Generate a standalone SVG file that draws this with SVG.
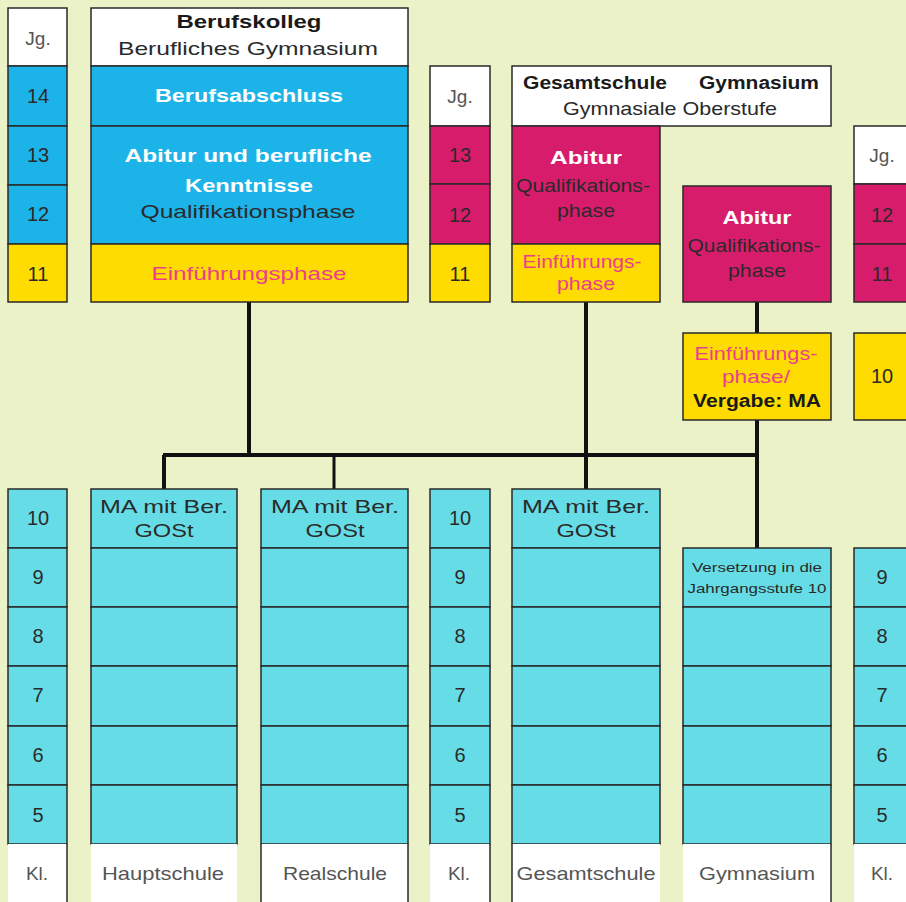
<svg xmlns="http://www.w3.org/2000/svg" width="906" height="902" viewBox="0 0 906 902">
<style>
.bg{fill:#ebf2c8}
.b{stroke:#2a2a2a;stroke-width:1.5}
.w{fill:#ffffff}
.blue{fill:#1cb3e8}
.pink{fill:#d81c6c}
.yel{fill:#ffdc00}
.cy{fill:#66dde6}
text{font-family:"Liberation Sans",Arial,sans-serif;text-anchor:middle}
.t{font-size:19px;fill:#2a2a2a}
.g{font-size:19px;fill:#555555}
.n{font-size:20px;fill:#2a2a2a}
.hb{font-size:18px;font-weight:bold;fill:#1a1a1a}
.wb{font-size:19px;font-weight:bold;fill:#ffffff}
.pk{font-size:19px;fill:#ec3d8e}
.sm{font-size:13px;fill:#2a2a2a}
.con{stroke:#111111;stroke-width:4;fill:none}
.edge{stroke:#2a2a2a;stroke-width:1.5}
</style>
<rect class="bg" x="0" y="0" width="906" height="902"/>

<g id="connectors">
<path class="con" d="M249 302V455"/>
<path class="con" d="M163 455H757"/>
<path class="con" d="M164 455V489"/>
<path class="con" d="M334 455V489" style="stroke-width:3"/>
<path class="con" d="M586 302V489"/>
<path class="con" d="M757 302V333"/>
<path class="con" d="M757 420V548"/>
</g>

<g id="jg-col1">
<rect class="w b" x="8" y="8" width="59" height="58"/>
<text class="g" x="38" y="45">Jg.</text>
<rect class="blue b" x="8" y="66" width="59" height="60"/>
<text class="n" x="38" y="103">14</text>
<rect class="blue b" x="8" y="126" width="59" height="59"/>
<text class="n" x="38" y="162">13</text>
<rect class="blue b" x="8" y="185" width="59" height="59"/>
<text class="n" x="38" y="221">12</text>
<rect class="yel b" x="8" y="244" width="59" height="58"/>
<text class="n" x="38" y="281">11</text>
</g>

<g id="berufskolleg">
<rect class="w b" x="91" y="8" width="317" height="58"/>
<text class="hb" x="249" y="28" textLength="145" lengthAdjust="spacingAndGlyphs">Berufskolleg</text>
<text class="t" x="248" y="55" textLength="260" lengthAdjust="spacingAndGlyphs">Berufliches Gymnasium</text>
<rect class="blue b" x="91" y="66" width="317" height="60"/>
<text class="wb" x="249" y="102" textLength="188" lengthAdjust="spacingAndGlyphs">Berufsabschluss</text>
<rect class="blue b" x="91" y="126" width="317" height="118"/>
<text class="wb" x="248" y="162" textLength="247" lengthAdjust="spacingAndGlyphs">Abitur und berufliche</text>
<text class="wb" x="249" y="192" textLength="128" lengthAdjust="spacingAndGlyphs">Kenntnisse</text>
<text class="t" x="248" y="218" textLength="215" lengthAdjust="spacingAndGlyphs">Qualifikationsphase</text>
<rect class="yel b" x="91" y="244" width="317" height="58"/>
<text class="pk" x="249" y="280" textLength="195" lengthAdjust="spacingAndGlyphs">Einführungsphase</text>
</g>

<g id="jg-col2">
<rect class="w b" x="430" y="66" width="60" height="60"/>
<text class="g" x="460" y="103">Jg.</text>
<rect class="pink b" x="430" y="126" width="60" height="58"/>
<text class="n" x="460" y="162">13</text>
<rect class="pink b" x="430" y="184" width="60" height="60"/>
<text class="n" x="460" y="222">12</text>
<rect class="yel b" x="430" y="244" width="60" height="58"/>
<text class="n" x="460" y="281">11</text>
</g>

<g id="oberstufe-header">
<rect class="w b" x="512" y="66" width="319" height="60"/>
<text class="hb" x="595" y="89" textLength="144" lengthAdjust="spacingAndGlyphs">Gesamtschule</text>
<text class="hb" x="759" y="89" textLength="120" lengthAdjust="spacingAndGlyphs">Gymnasium</text>
<text class="t" x="670" y="115" textLength="214" lengthAdjust="spacingAndGlyphs">Gymnasiale Oberstufe</text>
</g>

<g id="gesamtschule-oberstufe">
<rect class="pink b" x="512" y="126" width="148" height="118"/>
<text class="wb" x="586" y="164" textLength="72" lengthAdjust="spacingAndGlyphs">Abitur</text>
<text class="t" x="583" y="192" textLength="134" lengthAdjust="spacingAndGlyphs">Qualifikations-</text>
<text class="t" x="586" y="217" textLength="58" lengthAdjust="spacingAndGlyphs">phase</text>
<rect class="yel b" x="512" y="244" width="148" height="58"/>
<text class="pk" x="582" y="268" textLength="119" lengthAdjust="spacingAndGlyphs">Einführungs-</text>
<text class="pk" x="586" y="290" textLength="58" lengthAdjust="spacingAndGlyphs">phase</text>
</g>

<g id="gymnasium-oberstufe">
<rect class="pink b" x="683" y="186" width="148" height="116"/>
<text class="wb" x="757" y="224" textLength="69" lengthAdjust="spacingAndGlyphs">Abitur</text>
<text class="t" x="754" y="252" textLength="133" lengthAdjust="spacingAndGlyphs">Qualifikations-</text>
<text class="t" x="757" y="277" textLength="58" lengthAdjust="spacingAndGlyphs">phase</text>
</g>

<g id="gymnasium-ef">
<rect class="yel b" x="683" y="333" width="148" height="87"/>
<text class="pk" x="756" y="360" textLength="123" lengthAdjust="spacingAndGlyphs">Einführungs-</text>
<text class="pk" x="756" y="383" textLength="68" lengthAdjust="spacingAndGlyphs">phase/</text>
<text class="hb" x="757" y="407" textLength="128" lengthAdjust="spacingAndGlyphs">Vergabe: MA</text>
</g>

<g id="jg-col3">
<rect class="w b" x="854" y="126" width="70" height="58"/>
<text class="g" x="882" y="162">Jg.</text>
<rect class="pink b" x="854" y="184" width="70" height="60"/>
<text class="n" x="882" y="222">12</text>
<rect class="pink b" x="854" y="244" width="70" height="58"/>
<text class="n" x="882" y="281">11</text>
<rect class="yel b" x="854" y="333" width="70" height="87"/>
<text class="n" x="882" y="383">10</text>
</g>

<g id="kl-col1">
<rect class="cy b" x="8" y="489" width="59" height="59"/>
<text class="n" x="38" y="525">10</text>
<rect class="cy b" x="8" y="548" width="59" height="59"/>
<text class="n" x="38" y="584">9</text>
<rect class="cy b" x="8" y="607" width="59" height="59"/>
<text class="n" x="38" y="643">8</text>
<rect class="cy b" x="8" y="666" width="59" height="60"/>
<text class="n" x="38" y="702">7</text>
<rect class="cy b" x="8" y="726" width="59" height="59"/>
<text class="n" x="38" y="762">6</text>
<rect class="cy b" x="8" y="785" width="59" height="59"/>
<text class="n" x="38" y="822">5</text>
<rect class="w" x="8" y="844" width="59" height="58"/>
<text class="g" x="37" y="880">Kl.</text>
</g>

<g id="hauptschule">
<rect class="cy b" x="91" y="489" width="146" height="59"/>
<text class="t" x="164" y="513" textLength="128" lengthAdjust="spacingAndGlyphs">MA mit Ber.</text>
<text class="t" x="164" y="537" textLength="59" lengthAdjust="spacingAndGlyphs">GOSt</text>
<rect class="cy b" x="91" y="548" width="146" height="59"/>
<rect class="cy b" x="91" y="607" width="146" height="59"/>
<rect class="cy b" x="91" y="666" width="146" height="60"/>
<rect class="cy b" x="91" y="726" width="146" height="59"/>
<rect class="cy b" x="91" y="785" width="146" height="59"/>
<rect class="w" x="91" y="844" width="146" height="58"/>
<text class="g" x="163" y="880" textLength="122" lengthAdjust="spacingAndGlyphs">Hauptschule</text>
</g>

<g id="realschule">
<rect class="cy b" x="261" y="489" width="147" height="59"/>
<text class="t" x="335" y="513" textLength="128" lengthAdjust="spacingAndGlyphs">MA mit Ber.</text>
<text class="t" x="335" y="537" textLength="59" lengthAdjust="spacingAndGlyphs">GOSt</text>
<rect class="cy b" x="261" y="548" width="147" height="59"/>
<rect class="cy b" x="261" y="607" width="147" height="59"/>
<rect class="cy b" x="261" y="666" width="147" height="60"/>
<rect class="cy b" x="261" y="726" width="147" height="59"/>
<rect class="cy b" x="261" y="785" width="147" height="59"/>
<rect class="w" x="261" y="844" width="147" height="58"/>
<text class="g" x="335" y="880" textLength="104" lengthAdjust="spacingAndGlyphs">Realschule</text>
</g>

<g id="kl-col2">
<rect class="cy b" x="430" y="489" width="60" height="59"/>
<text class="n" x="460" y="525">10</text>
<rect class="cy b" x="430" y="548" width="60" height="59"/>
<text class="n" x="460" y="584">9</text>
<rect class="cy b" x="430" y="607" width="60" height="59"/>
<text class="n" x="460" y="643">8</text>
<rect class="cy b" x="430" y="666" width="60" height="60"/>
<text class="n" x="460" y="702">7</text>
<rect class="cy b" x="430" y="726" width="60" height="59"/>
<text class="n" x="460" y="762">6</text>
<rect class="cy b" x="430" y="785" width="60" height="59"/>
<text class="n" x="460" y="822">5</text>
<rect class="w" x="430" y="844" width="60" height="58"/>
<text class="g" x="459" y="880">Kl.</text>
</g>

<g id="gesamtschule">
<rect class="cy b" x="512" y="489" width="148" height="59"/>
<text class="t" x="586" y="513" textLength="128" lengthAdjust="spacingAndGlyphs">MA mit Ber.</text>
<text class="t" x="586" y="537" textLength="59" lengthAdjust="spacingAndGlyphs">GOSt</text>
<rect class="cy b" x="512" y="548" width="148" height="59"/>
<rect class="cy b" x="512" y="607" width="148" height="59"/>
<rect class="cy b" x="512" y="666" width="148" height="60"/>
<rect class="cy b" x="512" y="726" width="148" height="59"/>
<rect class="cy b" x="512" y="785" width="148" height="59"/>
<rect class="w" x="512" y="844" width="148" height="58"/>
<text class="g" x="586" y="880" textLength="139" lengthAdjust="spacingAndGlyphs">Gesamtschule</text>
</g>

<g id="gymnasium">
<rect class="cy b" x="683" y="548" width="148" height="59"/>
<text class="sm" x="757" y="572" textLength="130" lengthAdjust="spacingAndGlyphs">Versetzung in die</text>
<text class="sm" x="757" y="593" textLength="139" lengthAdjust="spacingAndGlyphs">Jahrgangsstufe 10</text>
<rect class="cy b" x="683" y="607" width="148" height="59"/>
<rect class="cy b" x="683" y="666" width="148" height="60"/>
<rect class="cy b" x="683" y="726" width="148" height="59"/>
<rect class="cy b" x="683" y="785" width="148" height="59"/>
<rect class="w" x="683" y="844" width="148" height="58"/>
<text class="g" x="757" y="880" textLength="116" lengthAdjust="spacingAndGlyphs">Gymnasium</text>
</g>

<g id="kl-col3">
<rect class="cy b" x="854" y="548" width="70" height="59"/>
<text class="n" x="882" y="584">9</text>
<rect class="cy b" x="854" y="607" width="70" height="59"/>
<text class="n" x="882" y="643">8</text>
<rect class="cy b" x="854" y="666" width="70" height="60"/>
<text class="n" x="882" y="702">7</text>
<rect class="cy b" x="854" y="726" width="70" height="59"/>
<text class="n" x="882" y="762">6</text>
<rect class="cy b" x="854" y="785" width="70" height="59"/>
<text class="n" x="882" y="822">5</text>
<rect class="w" x="854" y="844" width="70" height="58"/>
<text class="g" x="882" y="880">Kl.</text>
</g>

<g id="label-edges">
<path class="edge" d="M67 844V902M261 844V902M408 844V902M490 844V902M512 844V902M831 844V902"/>
</g>
</svg>
